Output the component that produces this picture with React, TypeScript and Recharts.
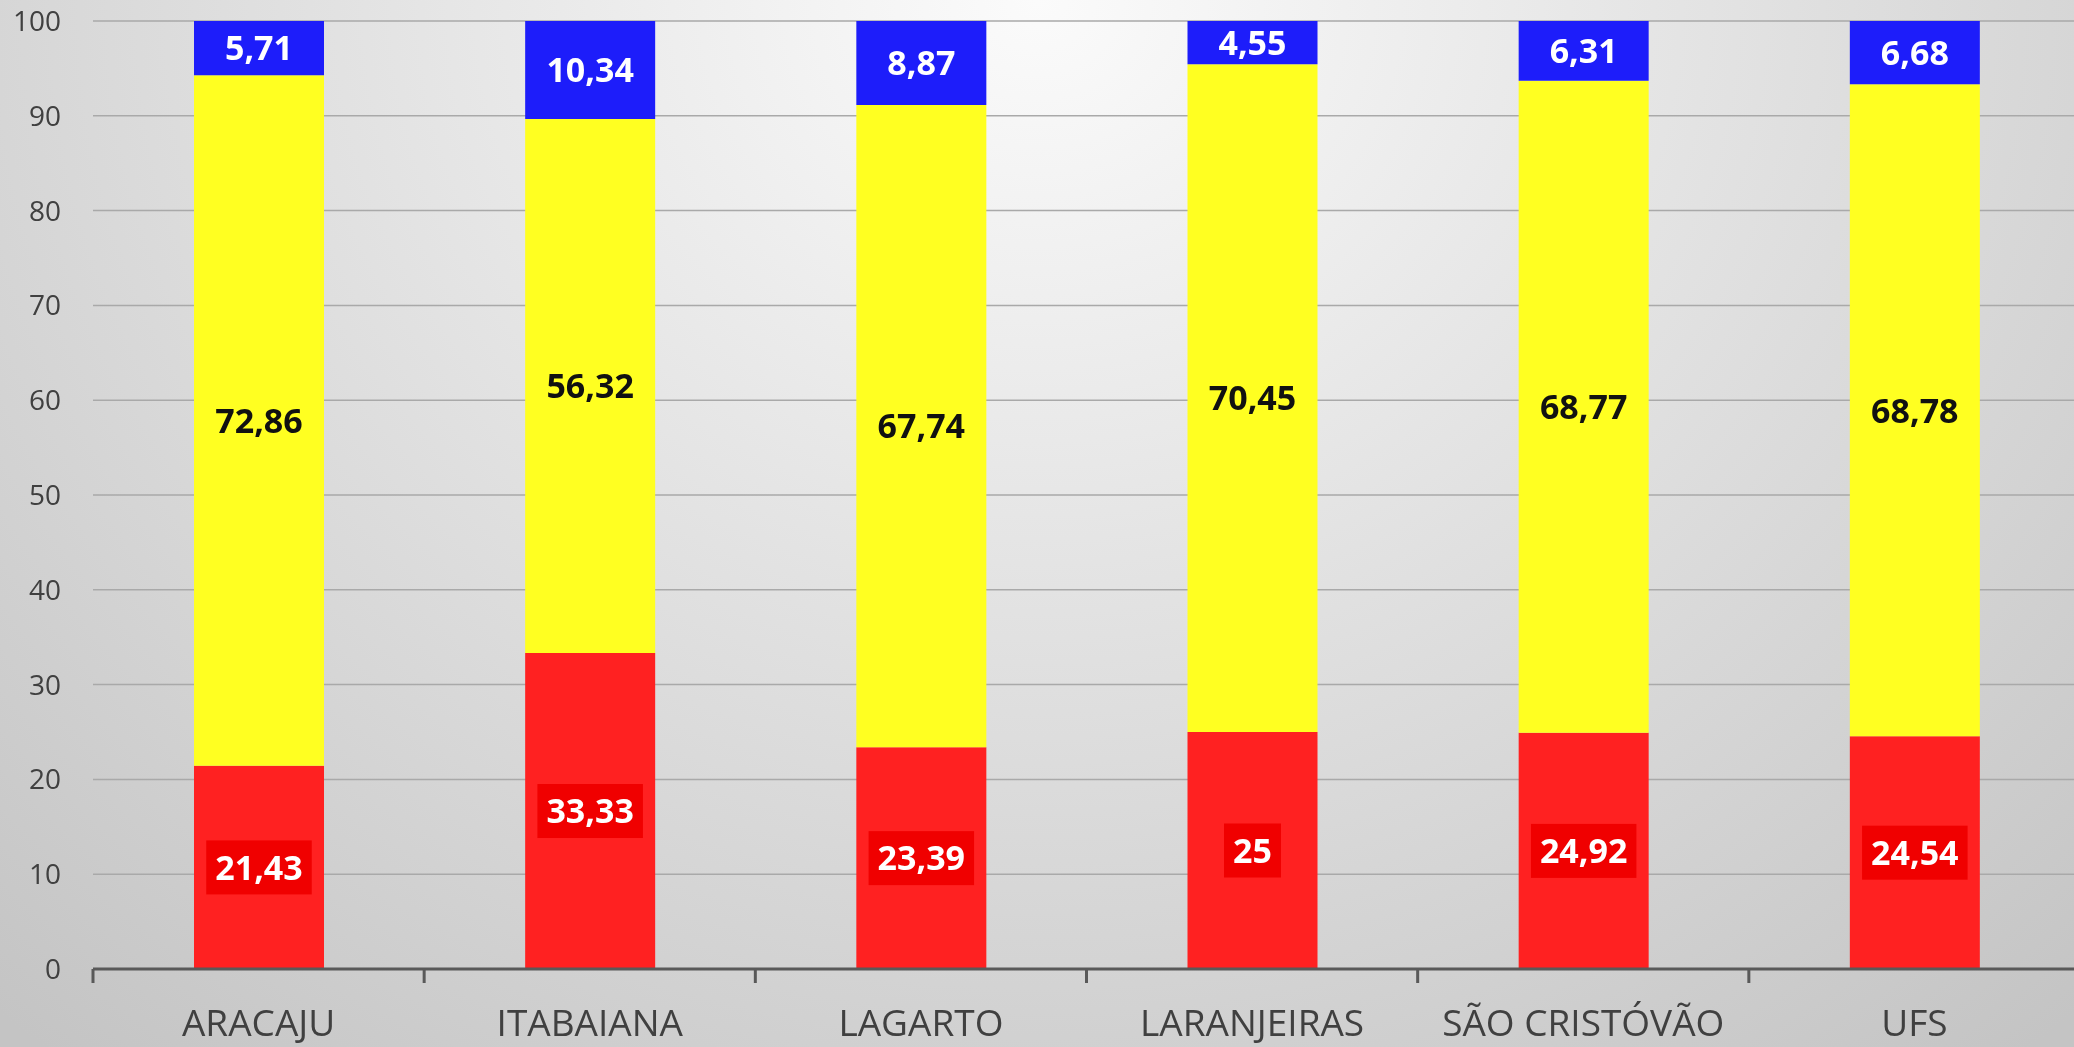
import React from 'react'
import { BarChart, Bar, XAxis, YAxis, CartesianGrid, LabelList } from 'recharts'

const categories = ['ARACAJU', 'ITABAIANA', 'LAGARTO', 'LARANJEIRAS', 'SÃO CRISTÓVÃO', 'UFS']
const redValues = [21.43, 33.33, 23.39, 25, 24.92, 24.54]
const yellowValues = [72.86, 56.32, 67.74, 70.45, 68.77, 68.78]
const blueValues = [5.71, 10.34, 8.87, 4.55, 6.31, 6.68]
const yTicks = [0, 10, 20, 30, 40, 50, 60, 70, 80, 90, 100]

const FONT = '"Open Sans", "Liberation Sans", sans-serif'

// tamaño del gráfico (un poco más ancho que la ventana, como en el original)
const CHART_W = 2080
const CHART_H = 1047
const Y_AXIS_W = 93
const STEP = (CHART_W - Y_AXIS_W) / categories.length

const data = categories.map((name, i) => ({
  name,
  red: redValues[i],
  yellow: yellowValues[i],
  blue: blueValues[i],
}))

const fmt = (v: number) => String(v).replace('.', ',')

// etiqueta de valor centrada en el segmento, con caja opcional
const makeLabel = (textColor: string, boxColor?: string) => (props: any) => {
  const { x, y, width, height, value } = props
  const cx = Number(x) + Number(width) / 2
  const cy = Number(y) + Number(height) / 2
  const text = fmt(Number(value))
  const fontSize = 34
  const textW = text.split('').reduce((s, c) => s + (c === ',' ? 9.5 : 19.5), 0)
  return (
    <g>
      {boxColor && (
        <rect x={cx - textW / 2 - 9} y={cy - 27} width={textW + 18} height={54} fill={boxColor} />
      )}
      <text
        x={cx}
        y={cy}
        dy="0.36em"
        textAnchor="middle"
        fill={textColor}
        fontFamily={FONT}
        fontWeight={700}
        fontSize={fontSize}
      >
        {text}
      </text>
    </g>
  )
}

// tick del eje X: texto centrado y marca en el límite de la categoría
const CategoryTick = (props: any) => {
  const { x, y, payload } = props
  const bx = x - STEP / 2
  return (
    <g>
      <line x1={bx} y1={y} x2={bx} y2={y + 14} stroke="#595959" strokeWidth={3} />
      <text x={x} y={y + 67} textAnchor="middle" fill="#404040" fontFamily={FONT} fontSize={37}>
        {payload.value}
      </text>
    </g>
  )
}

export default function App() {
  return (
    <div
      style={{
        position: 'fixed',
        left: 0,
        top: 0,
        width: 2074,
        height: 1047,
        overflow: 'hidden',
        background: 'radial-gradient(ellipse 75% 130% at 50% 0%, #fbfbfb 0%, #e2e2e2 45%, #c4c4c4 100%)',
      }}
    >
      <BarChart
        width={CHART_W}
        height={CHART_H}
        data={data}
        margin={{ top: 21, right: 0, bottom: 0, left: 0 }}
        barSize={130}
      >
        <CartesianGrid vertical={false} stroke="#a9a9a9" strokeWidth={1.5} />
        <XAxis
          dataKey="name"
          height={78}
          axisLine={{ stroke: '#595959', strokeWidth: 3 }}
          tickLine={false}
          tickSize={0}
          tickMargin={0}
          interval={0}
          tick={<CategoryTick />}
        />
        <YAxis
          width={Y_AXIS_W}
          domain={[0, 100]}
          ticks={yTicks}
          axisLine={false}
          tickLine={false}
          tickSize={0}
          tickMargin={32}
          tick={{ fill: '#404040', fontSize: 28, fontFamily: FONT }}
        />
        <Bar dataKey="red" stackId="a" fill="#ff2121" isAnimationActive={false}>
          <LabelList dataKey="red" content={makeLabel('#ffffff', '#f00000')} />
        </Bar>
        <Bar dataKey="yellow" stackId="a" fill="#ffff21" isAnimationActive={false}>
          <LabelList dataKey="yellow" content={makeLabel('#111111')} />
        </Bar>
        <Bar dataKey="blue" stackId="a" fill="#1d1dfa" isAnimationActive={false}>
          <LabelList dataKey="blue" content={makeLabel('#ffffff')} />
        </Bar>
      </BarChart>
    </div>
  )
}
